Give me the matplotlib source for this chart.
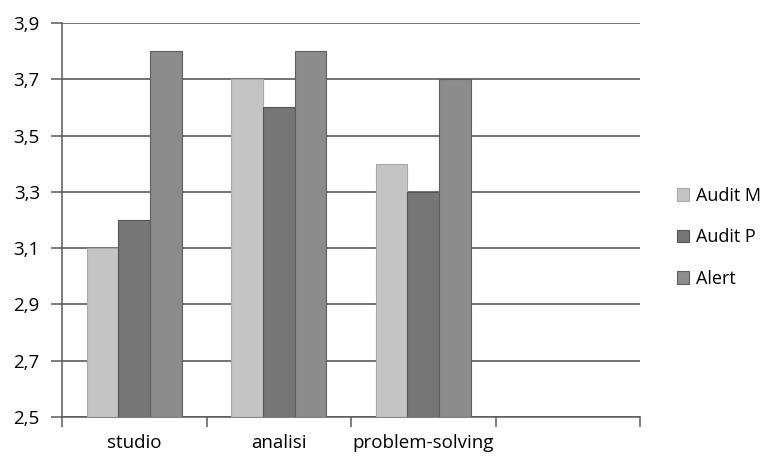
import numpy as np
import matplotlib
matplotlib.use("Agg")
import matplotlib.pyplot as plt
from matplotlib.ticker import FuncFormatter

# %% Data

categorie = ["studio", "analisi", "problem-solving", ""]
audit_m = [3.1, 3.7, 3.4, np.nan]
audit_p = [3.2, 3.6, 3.3, np.nan]
alert = [3.8, 3.8, 3.7, np.nan]
serie = ["Audit M", "Audit P", "Alert"]
yticks = [2.5, 2.7, 2.9, 3.1, 3.3, 3.5, 3.7, 3.9]

# %% Plot

plt.rcParams['font.family'] = ['Open Sans', 'DejaVu Sans']

fig = plt.figure(figsize=(7.66, 4.57), dpi=100)
ax = fig.add_axes([0.081, 0.0875, 0.7546, 0.8622])

x = np.arange(len(categorie))
w = 0.22
colori = ["#c4c4c4", "#767676", "#8c8c8c"]
bordi = ["#a8a8a8", "#555555", "#5e5e5e"]

for k, (vals, nome) in enumerate(zip([audit_m, audit_p, alert], serie)):
    ax.bar(x + (k - 1) * w, np.array(vals) - 2.5, width=w, bottom=2.5,
           color=colori[k], edgecolor=bordi[k], linewidth=0.8,
           label=nome, zorder=3)

ax.set_xlim(-0.5, len(categorie) - 0.5)
ax.set_ylim(2.5, 3.9)
ax.set_yticks(yticks)
ax.yaxis.set_major_formatter(FuncFormatter(lambda v, p: f"{v:.1f}".replace(".", ",")))
ax.grid(axis='y', color="#5a5a5a", linewidth=1.2, zorder=0)

ax.set_xticks(x, labels=categorie)
ax.set_xticks(np.arange(len(categorie) + 1) - 0.5, minor=True)
ax.tick_params(axis='x', which='major', length=0, pad=12, labelsize=13.5)
ax.tick_params(axis='x', which='minor', length=7, width=1.1, color="#5a5a5a")
ax.tick_params(axis='y', length=8, width=1.1, color="#5a5a5a", pad=8, labelsize=13.5)

for s in ["top", "right"]:
    ax.spines[s].set_visible(False)
for s in ["left", "bottom"]:
    ax.spines[s].set_color("#5a5a5a")
    ax.spines[s].set_linewidth(1.1)

leg = fig.legend(loc="center left", bbox_to_anchor=(0.862, 0.481), frameon=False,
                 fontsize=13, handlelength=0.7, handleheight=0.7,
                 handletextpad=0.4, labelspacing=1.3)

fig.savefig("out.png", dpi=100)
